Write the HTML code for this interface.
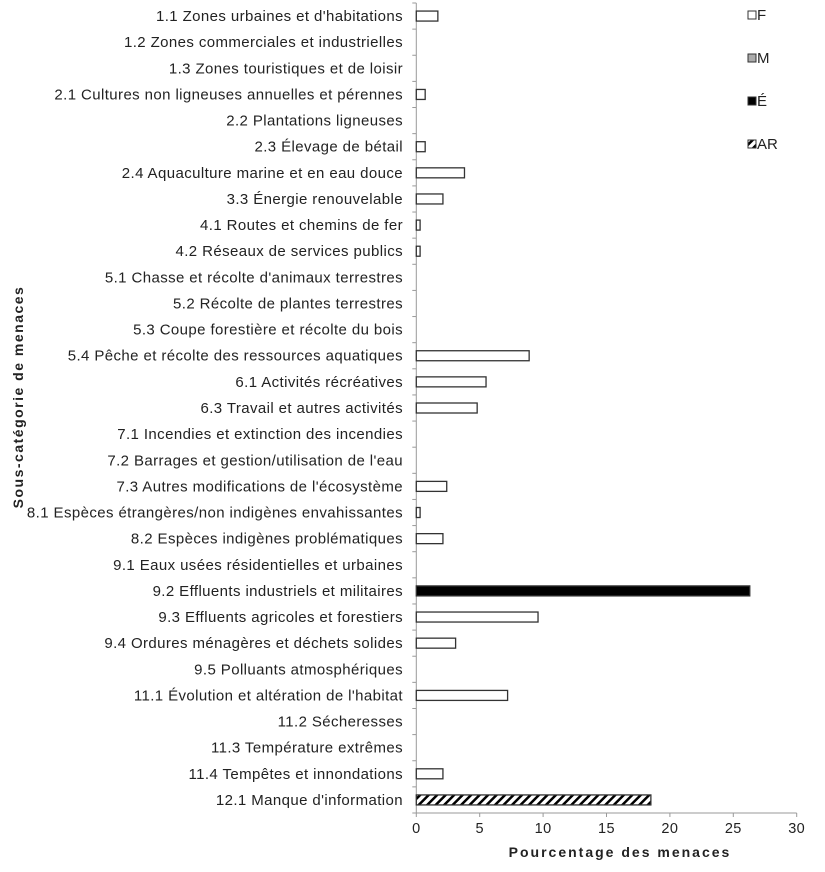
<!DOCTYPE html>
<html><head><meta charset="utf-8"><style>
body{margin:0;background:#fff;}
svg text{font-family:"Liberation Sans",Arial,sans-serif;fill:#222;}
</style></head><body>
<svg id="chart" width="825" height="867" xmlns="http://www.w3.org/2000/svg">
<defs><pattern id="hatch" patternUnits="userSpaceOnUse" width="6" height="6" patternTransform="rotate(45)"><rect width="6" height="6" fill="#fff"/><rect width="2.5" height="6" fill="#000"/></pattern></defs>
<g id="plot"></g>
</svg>
<script>
const categories=["1.1 Zones urbaines et d'habitations","1.2 Zones commerciales et industrielles","1.3 Zones touristiques et de loisir","2.1 Cultures non ligneuses annuelles et pérennes","2.2 Plantations ligneuses","2.3 Élevage de bétail","2.4 Aquaculture marine et en eau douce","3.3 Énergie renouvelable","4.1 Routes et chemins de fer","4.2 Réseaux de services publics ","5.1 Chasse et récolte d'animaux terrestres","5.2 Récolte de plantes terrestres","5.3 Coupe forestière et récolte du bois","5.4 Pêche et récolte des ressources aquatiques","6.1 Activités récréatives","6.3 Travail et autres activités","7.1 Incendies et extinction des incendies","7.2 Barrages et gestion/utilisation de l'eau","7.3 Autres modifications de l'écosystème","8.1 Espèces étrangères/non indigènes envahissantes","8.2 Espèces indigènes problématiques ","9.1 Eaux usées résidentielles et urbaines","9.2 Effluents industriels et militaires","9.3 Effluents agricoles et forestiers ","9.4 Ordures ménagères et déchets solides","9.5 Polluants atmosphériques","11.1 Évolution et altération de l'habitat","11.2 Sécheresses","11.3 Température extrêmes","11.4 Tempêtes et innondations","12.1 Manque d'information"];
const values=[1.7,0,0,0.7,0,0.7,3.8,2.1,0.3,0.3,0,0,0,8.9,5.5,4.8,0,0,2.4,0.3,2.1,0,26.3,9.6,3.1,0,7.2,0,0,2.1,18.5];
const series=["F","F","F","F","F","F","F","F","F","F","F","F","F","F","F","F","F","F","F","F","F","F","É","F","F","F","F","F","F","F","AR"];
const xTicks=[0,5,10,15,20,25,30];
const legendLabels=["F","M","É","AR"];
const fills={"F":"#fff","M":"#aaa","É":"#000","AR":"url(#hatch)"};
const NS="http://www.w3.org/2000/svg";
const g=document.getElementById('plot');
const x0=416.3,x1=796.7,yTop=3,yBot=813;
const band=(yBot-yTop)/categories.length;
const xs=v=>x0+(v-xTicks[0])/(xTicks[xTicks.length-1]-xTicks[0])*(x1-x0);
const yc=i=>yTop+band*(i+0.5);
function mk(t,a){const e=document.createElementNS(NS,t);for(const k in a)e.setAttribute(k,a[k]);g.appendChild(e);return e;}
let e;
e=mk('line',{x1:x0,y1:yTop,x2:x0,y2:yBot,stroke:'#999','stroke-width':1});


e=mk('line',{x1:x0,y1:yBot,x2:x1,y2:yBot,stroke:'#999','stroke-width':1});


for(let i=0;i<=categories.length;i++){
 e=mk('line',{x1:x0-4,y1:yTop+band*i,x2:x0,y2:yTop+band*i,stroke:'#999'});
 
 
}
xTicks.forEach(t=>{
 e=mk('line',{x1:xs(t),y1:yBot,x2:xs(t),y2:yBot+4,stroke:'#999'});
 
 
 e=mk('text',{x:xs(t),y:yBot+20,'text-anchor':'middle','font-size':14.5,'letter-spacing':'0.4'});
 e.textContent=t;
 
 
});
categories.forEach((c,i)=>{
 e=mk('text',{x:403,y:yc(i)+5,'text-anchor':'end','font-size':15,'letter-spacing':'0.4'});
 e.textContent=c;
 
 
 if(values[i]>0){
  e=mk('rect',{x:x0,y:yc(i)-5,width:xs(values[i])-x0,height:10,fill:fills[series[i]],stroke:'#333','stroke-width':1.3});
  
  
 }
});
legendLabels.forEach((l,i)=>{
 const y=20+i*43;
 e=mk('rect',{x:748,y:y-9,width:8,height:8,fill:fills[l],stroke:'#333','stroke-width':1});
 
 
 e=mk('text',{x:757,y:y,'font-size':15});
 e.textContent=l;
 
 
});
e=mk('text',{x:620,y:857,'text-anchor':'middle','font-size':14,'font-weight':'bold','letter-spacing':'2'});
e.textContent='Pourcentage des menaces';


e=mk('text',{x:0,y:0,'text-anchor':'middle','font-size':14,'font-weight':'bold','letter-spacing':'1.5',transform:'translate(23,397) rotate(-90)'});
e.textContent='Sous-catégorie de menaces';


</script>
</body></html>
